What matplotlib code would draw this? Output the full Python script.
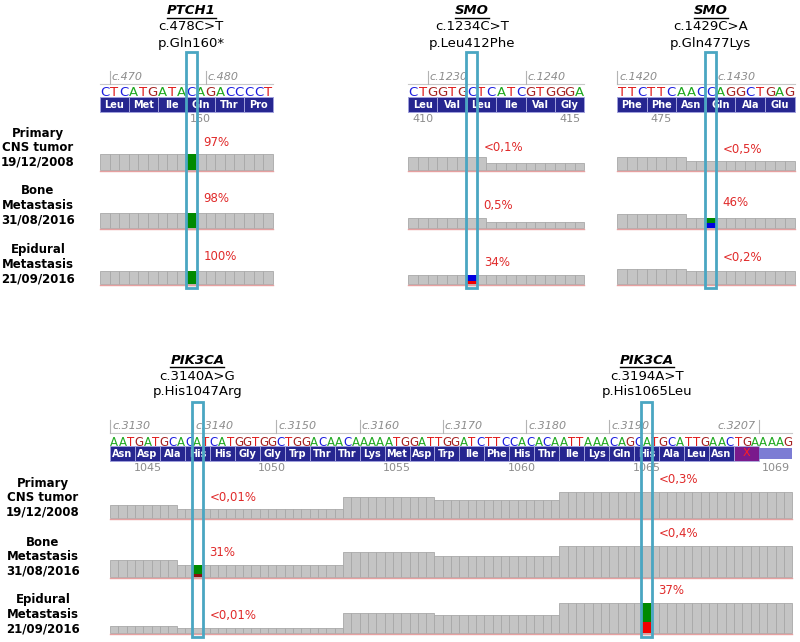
import matplotlib
matplotlib.use("Agg")
import matplotlib.pyplot as plt
from matplotlib.patches import Rectangle

# ---------------- data ----------------
sample_labels = [["Primary", "CNS tumor", "19/12/2008"],
                 ["Bone", "Metastasis", "31/08/2016"],
                 ["Epidural", "Metastasis", "21/09/2016"]]

# PTCH1 c.478C>T
ptch1_start = 469
ptch1_seq = "CTCATGATACAGACCCCT"
ptch1_aa = ["Leu", "Met", "Ile", "Gln", "Thr", "Pro"]
ptch1_codon1 = 157
ptch1_codon_nums = [160]
ptch1_ticks = [470, 480]
ptch1_depth = [
    [16, 16, 16, 16, 16, 16, 16, 16, 16, 16, 16, 16, 16, 16, 16, 16, 16, 16],
    [15, 15, 15, 15, 15, 15, 15, 15, 15, 15, 15, 15, 15, 15, 15, 15, 15, 15],
    [13, 13, 13, 13, 13, 13, 13, 13, 13, 13, 13, 13, 13, 13, 13, 13, 13, 13],
]
ptch1_var = 478
ptch1_alleles = [[("A", 1.0)], [("A", 1.0)], [("A", 1.0)]]
ptch1_pct = ["97%", "98%", "100%"]
ptch1_title = ["PTCH1", "c.478C>T", "p.Gln160*"]

# SMO c.1234C>T
smo1_start = 1228
smo1_seq = "CTGGTGCTCATCGTGGGA"
smo1_aa = ["Leu", "Val", "Leu", "Ile", "Val", "Gly"]
smo1_codon1 = 410
smo1_codon_nums = [410, 415]
smo1_ticks = [1230, 1240]
smo1_depth = [
    [13, 13, 13, 13, 13, 13, 13, 13, 7, 7, 7, 7, 7, 7, 7, 7, 7, 7],
    [10, 10, 10, 10, 10, 10, 10, 10, 6, 6, 6, 6, 6, 6, 6, 6, 6, 6],
    [9, 9, 9, 9, 9, 9, 9, 9, 9, 9, 9, 9, 9, 9, 9, 9, 9, 9],
]
smo1_var = 1234
smo1_alleles = [None, None, [("C", 0.62), ("T", 0.38)]]
smo1_pct = ["<0,1%", "0,5%", "34%"]
smo1_title = ["SMO", "c.1234C>T", "p.Leu412Phe"]

# SMO c.1429C>A
smo2_start = 1420
smo2_seq = "TTCTTCAACCAGGCTGAG"
smo2_aa = ["Phe", "Phe", "Asn", "Gln", "Ala", "Glu"]
smo2_codon1 = 474
smo2_codon_nums = [475]
smo2_ticks = [1420, 1430]
smo2_depth = [
    [13, 13, 13, 13, 13, 13, 13, 9, 9, 9, 9, 9, 9, 9, 9, 9, 9, 9],
    [14, 14, 14, 14, 14, 14, 14, 10, 10, 10, 10, 10, 10, 10, 10, 10, 10, 10],
    [15, 15, 15, 15, 15, 15, 15, 13, 13, 13, 13, 13, 13, 13, 13, 13, 13, 13],
]
smo2_var = 1429
smo2_alleles = [None, [("A", 0.46), ("C", 0.54)], None]
smo2_pct = ["<0,5%", "46%", "<0,2%"]
smo2_title = ["SMO", "c.1429C>A", "p.Gln477Lys"]

# PIK3CA c.3140A>G and c.3194A>T
pik_start = 3130
pik_seq = ("AATGATGCACATCATGGTGGCTGGACAACAAAAATGGATTGGATCTTCCACACAATTAAA"
           "CAGCATGCATTGAACTGAAAAG")
pik_aa = ["Asn", "Asp", "Ala", "His", "His", "Gly", "Gly", "Trp", "Thr", "Thr",
          "Lys", "Met", "Asp", "Trp", "Ile", "Phe", "His", "Thr", "Ile", "Lys",
          "Gln", "His", "Ala", "Leu", "Asn", "*"]
pik_codon1 = 1044
pik_codon_nums = [1045, 1050, 1055, 1060, 1065]
pik_ticks = [3130, 3140, 3150, 3160, 3170, 3180, 3190]
pik_end_tick = 3207
pik_depth = [
    [13, 13, 13, 13, 13, 13, 13, 13,
     9, 9, 9, 9, 9, 9, 9, 9, 9, 9, 9, 9, 9, 9, 9, 9, 9, 9, 9, 9,
     21, 21, 21, 21, 21, 21, 21, 21, 21, 21, 21,
     18, 18, 18, 18, 18, 18, 18, 18, 18, 18, 18, 18, 18, 18, 18,
     26, 26, 26, 26, 26, 26, 26, 26, 26, 26, 26, 26, 26, 26, 26, 26, 26, 26, 26, 26,
     26, 26, 26, 26, 26, 26, 26, 26],
    [17, 17, 17, 17, 17, 17, 17, 17,
     12, 12, 12, 12, 12, 12, 12, 12, 12, 12, 12, 12, 12, 12, 12, 12, 12, 12, 12, 12,
     25, 25, 25, 25, 25, 25, 25, 25, 25, 25, 25,
     21, 21, 21, 21, 21, 21, 21, 21, 21, 21, 21, 21, 21, 21, 21,
     31, 31, 31, 31, 31, 31, 31, 31, 31, 31, 31, 31, 31, 31, 31, 31, 31, 31, 31, 31,
     31, 31, 31, 31, 31, 31, 31, 31],
    [7, 7, 7, 7, 7, 7, 7, 7,
     5, 5, 5, 5, 5, 5, 5, 5, 5, 5, 5, 5, 5, 5, 5, 5, 5, 5, 5, 5,
     20, 20, 20, 20, 20, 20, 20, 20, 20, 20, 20,
     18, 18, 18, 18, 18, 18, 18, 18, 18, 18, 18, 18, 18, 18, 18,
     30, 30, 30, 30, 30, 30, 30, 30, 30, 30, 30, 30, 30, 30, 30, 30, 30, 30, 30, 30,
     30, 30, 30, 30, 30, 30, 30, 30],
]
pik1_var = 3140
pik1_alleles = [None, [("A", 0.72), ("G", 0.28)], None]
pik1_pct = ["<0,01%", "31%", "<0,01%"]
pik1_title = ["PIK3CA", "c.3140A>G", "p.His1047Arg"]
pik2_var = 3194
pik2_alleles = [None, None, [("A", 0.63), ("T", 0.37)]]
pik2_pct = ["<0,3%", "<0,4%", "37%"]
pik2_title = ["PIK3CA", "c.3194A>T", "p.His1065Leu"]

# ---------------- styles ----------------
seq_col = {"A": "#1fa81f", "C": "#1c1ce0", "G": "#a52222", "T": "#e01c1c"}
cov_col = {"A": "#008a00", "C": "#0000e0", "G": "#8c1010", "T": "#f00000"}
BOX = "#4aa6c2"
GRAY_TXT = "#8c8c8c"
PCT = "#e02a2a"

fig = plt.figure(figsize=(8, 6.42), dpi=100)
ax = fig.add_axes([0, 0, 1, 1])
ax.set_xlim(0, 800)
ax.set_ylim(642, 0)
ax.axis("off")


def region(x0, bw, start, seq, aa, codon1, codon_nums, ticks, depth, y_rul, bases):
    n = len(seq)
    x_end = x0 + n * bw
    # ruler
    ax.plot([x0, x_end], [y_rul + 7, y_rul + 7], color="#c8c8c8", lw=0.8)
    for t in ticks:
        tx = x0 + (t - start) * bw
        ax.plot([tx, tx], [y_rul - 6, y_rul + 7], color="#b4b4b4", lw=0.8)
        ax.text(tx + 2, y_rul, "c.%d" % t, color=GRAY_TXT, fontsize=8,
                style="italic", ha="left", va="center")
    # sequence
    for i, b in enumerate(seq):
        ax.text(x0 + (i + 0.5) * bw, y_rul + 16, b, color=seq_col[b],
                fontsize=9.5 if bw > 9 else 8.5, ha="center", va="center")
    # amino acids
    ya = y_rul + 20
    for j, a in enumerate(aa):
        cx = x0 + j * 3 * bw
        if a == "*":
            ax.add_patch(Rectangle((cx, ya), 3 * bw, 15, fc="#7a1a8c", ec="#b0b0e0", lw=0.6))
            ax.text(cx + 1.5 * bw, ya + 7.5, "X", color="#ff2020", fontsize=8,
                    ha="center", va="center")
        else:
            ax.add_patch(Rectangle((cx, ya), 3 * bw, 15, fc="#262690", ec="#a0a0dc", lw=0.7))
            ax.text(cx + 1.5 * bw, ya + 7.8, a, color="white", fontsize=7,
                    weight="bold", ha="center", va="center")
    if len(aa) * 3 < n:
        cx = x0 + len(aa) * 3 * bw
        ax.add_patch(Rectangle((cx, ya + 2), x_end - cx, 11, fc="#7c7cd4", ec="none"))
    for c in codon_nums:
        cx = x0 + ((c - codon1) * 3 + 1.5) * bw
        ax.text(cx, ya + 22, str(c), color=GRAY_TXT, fontsize=8, ha="center", va="center")
    # coverage
    lefts = [x0 + i * bw for i in range(n)]
    for k, base in enumerate(bases):
        ax.bar(lefts, [-d for d in depth[k]], width=bw, bottom=base, align="edge",
               color="#c4c4c4", edgecolor="#a8a8a8", linewidth=0.6)
        ax.plot([x0, x_end], [base + 0.6, base + 0.6], color="#e6a0a0", lw=1.0)
    return x_end


def variant(x0, bw, start, var, depth, alleles, pct, pct_y, title, bases, box_y, title_y):
    xb = x0 + (var - start) * bw
    i = var - start
    for k, base in enumerate(bases):
        if alleles[k] is None:
            continue
        top = base - depth[k][i]
        for allele, frac in alleles[k]:
            h = depth[k][i] * frac
            ax.bar([xb], [h], width=bw, bottom=top, align="edge",
                   color=cov_col[allele], edgecolor="none")
            top += h
        ax.plot([xb, xb + bw], [base + 0.6, base + 0.6], color="#e6a0a0", lw=1.0)
    cx = xb + bw / 2
    ax.add_patch(Rectangle((cx - 5.5, box_y[0]), 11, box_y[1] - box_y[0],
                           fill=False, ec=BOX, lw=2.0, zorder=5))
    for k in range(3):
        ax.text(cx + 12, pct_y[k], pct[k], color=PCT, fontsize=8.5,
                ha="left", va="center")
    t = ax.text(cx, title_y, title[0], fontsize=9.5, weight="bold", style="italic",
                ha="center", va="center")
    fig.canvas.draw()
    bb = t.get_window_extent()
    ax.plot([bb.x0, bb.x1], [title_y + 7, title_y + 7], color="black", lw=1.0)
    ax.text(cx, title_y + 16, title[1], fontsize=9.5, ha="center", va="center")
    ax.text(cx, title_y + 32, title[2], fontsize=9.5, ha="center", va="center")


# top row
top_bases = [170, 228, 284]
region(100, 9.6, ptch1_start, ptch1_seq, ptch1_aa, ptch1_codon1, ptch1_codon_nums,
       ptch1_ticks, ptch1_depth, 77, top_bases)
variant(100, 9.6, ptch1_start, ptch1_var, ptch1_depth, ptch1_alleles, ptch1_pct,
        [142, 199, 257], ptch1_title, top_bases, (52, 288), 11)

region(408, 9.8, smo1_start, smo1_seq, smo1_aa, smo1_codon1, smo1_codon_nums,
       smo1_ticks, smo1_depth, 77, top_bases)
variant(408, 9.8, smo1_start, smo1_var, smo1_depth, smo1_alleles, smo1_pct,
        [147, 205, 262], smo1_title, top_bases, (52, 288), 11)

region(617, 9.87, smo2_start, smo2_seq, smo2_aa, smo2_codon1, smo2_codon_nums,
       smo2_ticks, smo2_depth, 77, top_bases)
variant(617, 9.87, smo2_start, smo2_var, smo2_depth, smo2_alleles, smo2_pct,
        [150, 203, 258], smo2_title, top_bases, (52, 288), 11)

# bottom row
bot_bases = [518, 577, 633]
bw = 8.32
region(110, bw, pik_start, pik_seq, pik_aa, pik_codon1, pik_codon_nums,
       pik_ticks, pik_depth, 426, bot_bases)
# end-of-CDS tick, label to the left
tx = 110 + (pik_end_tick + 1 - pik_start) * bw
ax.plot([tx, tx], [420, 433], color="#b4b4b4", lw=0.8)
ax.text(tx - 3, 426, "c.%d" % pik_end_tick, color=GRAY_TXT, fontsize=8,
        style="italic", ha="right", va="center")
ax.text(tx + 17, 468, str(pik_codon1 + len(pik_aa) - 1), color=GRAY_TXT, fontsize=8,
        ha="center", va="center")
variant(110, bw, pik_start, pik1_var, pik_depth, pik1_alleles, pik1_pct,
        [498, 552, 616], pik1_title, bot_bases, (402, 637), 360)
variant(110, bw, pik_start, pik2_var, pik_depth, pik2_alleles, pik2_pct,
        [479, 533, 591], pik2_title, bot_bases, (402, 637), 360)

# sample labels
for k, lines in enumerate(sample_labels):
    for j, s in enumerate(lines):
        ax.text(38, [133, 191, 250][k] + j * 14.5, s, fontsize=8.5, weight="bold",
                ha="center", va="center")
        ax.text(43, [483, 542, 600][k] + j * 14.5, s, fontsize=8.5, weight="bold",
                ha="center", va="center")

fig.savefig("out.png", dpi=100)
